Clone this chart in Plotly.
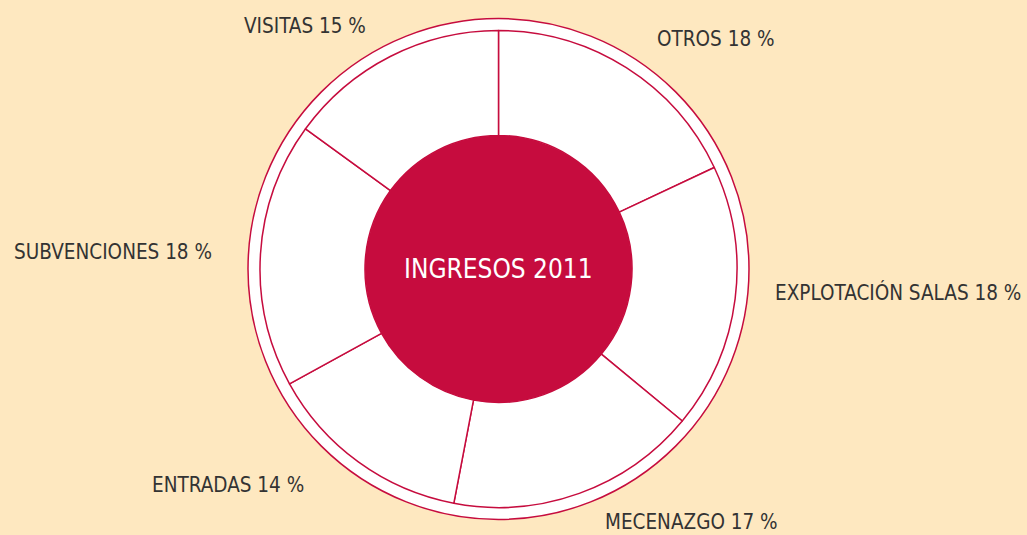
import plotly.graph_objects as go

labels = ["OTROS", "EXPLOTACIÓN SALAS", "MECENAZGO", "ENTRADAS", "SUBVENCIONES", "VISITAS"]
values = [18, 18, 17, 14, 18, 15]
center_title = "INGRESOS 2011"

# label anchor positions (pixels, horizontal center / vertical center)
label_px = [(716, 39), (897.5, 292), (691.5, 522), (228, 485), (112.5, 251.5), (305, 25.5)]

W, H = 1027, 535
CRIMSON = "#C60C3E"
BG = "#FEE8C0"
FONT = "Liberation Sans Narrow, DejaVu Sans Condensed, Arial Narrow, sans-serif"

def px(x):
    return x / W

def py(y):
    return 1 - y / H

cx, cy, r = 498.5, 269, 238.5
hole_r = 133.5
outer_r = 250.5

fig = go.Figure(go.Pie(
    labels=labels,
    values=values,
    sort=False,
    direction="clockwise",
    rotation=0,
    hole=hole_r / r,
    textinfo="none",
    hoverinfo="label+percent",
    marker=dict(colors=["white"] * len(labels), line=dict(color=CRIMSON, width=1.5)),
    domain=dict(x=[px(cx - r), px(cx + r)], y=[py(cy + r), py(cy - r)]),
    showlegend=False,
))

shapes = [
    dict(type="circle", xref="paper", yref="paper", layer="below",
         x0=px(cx - outer_r), x1=px(cx + outer_r), y0=py(cy + outer_r), y1=py(cy - outer_r),
         fillcolor="white", line=dict(color=CRIMSON, width=1.5)),
    dict(type="circle", xref="paper", yref="paper", layer="above",
         x0=px(cx - hole_r), x1=px(cx + hole_r), y0=py(cy + hole_r), y1=py(cy - hole_r),
         fillcolor=CRIMSON, line=dict(color=CRIMSON, width=0)),
]

total = sum(values)
annotations = []
for lab, val, (x, y) in zip(labels, values, label_px):
    annotations.append(dict(
        x=px(x), y=py(y), xref="paper", yref="paper", xanchor="center", yanchor="middle",
        text=f"{lab} {round(100 * val / total)} %", showarrow=False,
        font=dict(family=FONT, size=20.5, color="#333333"),
    ))
annotations.append(dict(
    x=px(cx), y=py(cy), xref="paper", yref="paper", xanchor="center", yanchor="middle",
    text=center_title, showarrow=False,
    font=dict(family=FONT, size=26, color="white"),
))

fig.update_layout(
    width=W, height=H,
    margin=dict(l=0, r=0, t=0, b=0),
    paper_bgcolor=BG, plot_bgcolor=BG,
    shapes=shapes, annotations=annotations,
)

fig.write_html(
    "out.html",
    config={"displayModeBar": False},
    post_script="document.body.style.margin='0';document.body.style.overflow='hidden';",
)
